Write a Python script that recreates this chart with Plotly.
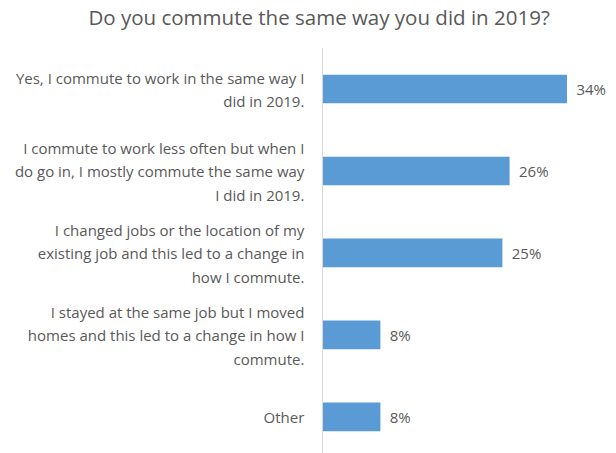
import plotly.graph_objects as go

# Survey answers, top to bottom
categories = [
    "Yes, I commute to work in the same way I<br>did in 2019.",
    "I commute to work less often but when I<br>do go in, I mostly commute the same way<br>I did in 2019.",
    "I changed jobs or the location of my<br>existing job and this led to a change in<br>how I commute.",
    "I stayed at the same job but I moved<br>homes and this led to a change in how I<br>commute.",
    "Other",
]
shares = [34, 26, 25, 8, 8]

TEXT = "#595959"
BAR = "#5B9BD5"
FONT = "Open Sans"
LABEL_PX = 15

# Tick labels: small glyphs inside a larger base font so the lines are spaced wider
tick_text = [
    "<br>".join(f'<span style="font-size:{LABEL_PX}px">{line}</span>' for line in c.split("<br>"))
    for c in categories
]

fig = go.Figure(
    go.Bar(
        x=shares,
        y=categories,
        orientation="h",
        marker=dict(color=BAR, line=dict(width=0)),
        texttemplate="\u00a0\u2009%{x}%",
        textposition="outside",
        textfont=dict(family=FONT, size=15, color=TEXT),
        cliponaxis=False,
        hoverinfo="skip",
    )
)

fig.update_layout(
    width=616,
    height=453,
    margin=dict(l=323, r=16, t=48, b=0),
    paper_bgcolor="white",
    plot_bgcolor="white",
    bargap=0.65,
    showlegend=False,
    title=dict(
        text="Do you commute the same way you did in 2019?",
        font=dict(family=FONT, size=20.5, color=TEXT),
        x=0.518,
        xanchor="center",
        xref="container",
        y=1 - 18 / 453,
        yanchor="middle",
        yref="container",
    ),
    xaxis=dict(
        range=[0, 38.6],
        showgrid=False,
        zeroline=False,
        showticklabels=False,
        showline=False,
        fixedrange=True,
    ),
    yaxis=dict(
        type="category",
        range=[4.44, -0.5],
        tickmode="array",
        tickvals=categories,
        ticktext=tick_text,
        tickfont=dict(family=FONT, size=18, color=TEXT),
        ticks="outside",
        ticklen=14,
        tickcolor="rgba(0,0,0,0)",
        showline=True,
        linecolor="#d9d9d9",
        linewidth=1,
        showgrid=False,
        zeroline=False,
        fixedrange=True,
    ),
)

fig.write_html("out.html")
